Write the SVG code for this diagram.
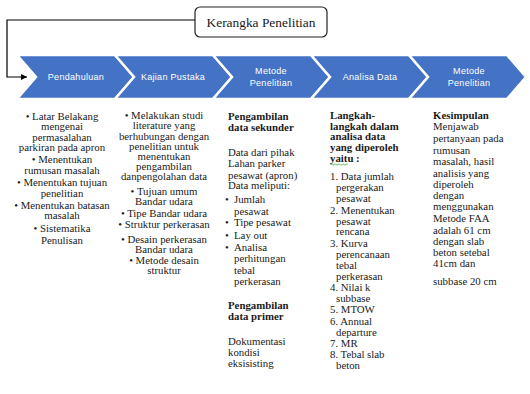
<svg xmlns="http://www.w3.org/2000/svg" width="530" height="394" viewBox="0 0 530 394">
<style>
.chev{fill:#4472C4;stroke:#fff;stroke-width:2.5;stroke-linejoin:miter}
.ct{font-family:"Liberation Sans",Arial,sans-serif;font-size:9px;fill:#fff;text-anchor:middle;letter-spacing:0.3px}
.t{font-family:"Liberation Serif","Times New Roman",serif;font-size:10.8px;fill:#1a1a1a}
.c{text-anchor:middle}
.b{font-weight:bold}
.conn{fill:none;stroke:#000;stroke-width:1.2}
</style>
<defs>
<marker id="arr" markerWidth="8" markerHeight="8" refX="6" refY="3" orient="auto" markerUnits="userSpaceOnUse"><path d="M0,0 L6,3 L0,6 Z" fill="#000"/></marker>
</defs>
<rect width="530" height="394" fill="#fff"/>
<g id="connectors">
<path class="conn" d="M195,20 H7 V77 H27" marker-end="url(#arr)"/>
</g>
<g id="kerangka">
<rect x="195" y="7" width="132" height="30" rx="5" fill="#fff" stroke="#222" stroke-width="1.2"/>
<text x="261" y="26.5" class="t c" style="font-size:13.4px">Kerangka Penelitian</text>
</g>
<g id="chev1"><path class="chev" d="M17,55 H115 L134,77 L115,99 H17 L36,77 Z"/><text class="ct" x="76" y="80">Pendahuluan</text></g>
<g id="chev2"><path class="chev" d="M115,55 H213 L232,77 L213,99 H115 L134,77 Z"/><text class="ct" x="173" y="80">Kajian Pustaka</text></g>
<g id="chev3"><path class="chev" d="M213,55 H311 L330,77 L311,99 H213 L232,77 Z"/><text class="ct" x="271" y="74">Metode</text><text class="ct" x="271" y="85.5">Penelitian</text></g>
<g id="chev4"><path class="chev" d="M311,55 H409 L428,77 L409,99 H311 L330,77 Z"/><text class="ct" x="370" y="80">Analisa Data</text></g>
<g id="chev5"><path class="chev" d="M409,55 H507 L526,77 L507,99 H409 L428,77 Z"/><text class="ct" x="469" y="74">Metode</text><text class="ct" x="469" y="85.5">Penelitian</text></g>
<g id="col1" class="t c">
<text x="62" y="120">• Latar Belakang</text>
<text x="62" y="130">mengenai</text>
<text x="62" y="141">permasalahan</text>
<text x="62" y="151">parkiran pada apron</text>
<text x="62" y="162.5">• Menentukan</text>
<text x="62" y="173.5">rumusan masalah</text>
<text x="62" y="185.5">• Menentukan tujuan</text>
<text x="62" y="197">penelitian</text>
<text x="62" y="208.5">• Menentukan batasan</text>
<text x="62" y="218.5">masalah</text>
<text x="62" y="232">• Sistematika</text>
<text x="62" y="243.5">Penulisan</text>
</g>
<g id="col2" class="t c">
<text x="164" y="119">• Melakukan studi</text>
<text x="164" y="129">literature yang</text>
<text x="164" y="140">berhubungan dengan</text>
<text x="164" y="150">penelitian untuk</text>
<text x="164" y="160">menentukan</text>
<text x="164" y="170">pengambilan</text>
<text x="164" y="180">danpengolahan data</text>
<text x="164" y="194.5">• Tujuan umum</text>
<text x="164" y="204.5">Bandar udara</text>
<text x="164" y="216.5">• Tipe Bandar udara</text>
<text x="164" y="227.5">• Struktur perkerasan</text>
<text x="164" y="242.5">• Desain perkerasan</text>
<text x="164" y="252.5">Bandar udara</text>
<text x="164" y="263.5">• Metode desain</text>
<text x="164" y="273.5">struktur</text>
</g>
<g id="col3" class="t">
<text x="228" y="119.5" class="b">Pengambilan</text>
<text x="228" y="130.5" class="b">data sekunder</text>
<text x="228" y="156">Data dari pihak</text>
<text x="228" y="167">Lahan parker</text>
<text x="228" y="178.5">pesawat (apron)</text>
<text x="228" y="188.5">Data meliputi:</text>
<text x="225" y="203">•</text><text x="234" y="203">Jumlah</text>
<text x="234" y="214.5">pesawat</text>
<text x="225" y="226">•</text><text x="234" y="226">Tipe pesawat</text>
<text x="225" y="238.5">•</text><text x="234" y="238.5">Lay out</text>
<text x="225" y="251">•</text><text x="234" y="251">Analisa</text>
<text x="234" y="262">perhitungan</text>
<text x="234" y="273.5">tebal</text>
<text x="234" y="285">perkerasan</text>
<text x="228" y="309" class="b">Pengambilan</text>
<text x="228" y="320" class="b">data primer</text>
<text x="228" y="345">Dokumentasi</text>
<text x="228" y="356">kondisi</text>
<text x="228" y="367">eksisisting</text>
</g>
<g id="col4" class="t">
<text x="330" y="119" class="b">Langkah-</text>
<text x="330" y="129.5" class="b">langkah dalam</text>
<text x="330" y="140" class="b">analisa data</text>
<text x="330" y="151" class="b">yang diperoleh</text>
<text x="330" y="162" class="b">yaitu :</text>
<path d="M330,164.5 q1,-1.2 2,0 t2,0 t2,0 t2,0 t2,0 t2,0 t2,0 t2,0 t2,0" fill="none" stroke="#3a9a3a" stroke-width="0.7"/>
<text x="330" y="180">1. Data jumlah</text>
<text x="336" y="191">pergerakan</text>
<text x="336" y="202">pesawat</text>
<text x="330" y="213.5">2. Menentukan</text>
<text x="336" y="224.5">pesawat</text>
<text x="336" y="235">rencana</text>
<text x="330" y="247">3. Kurva</text>
<text x="336" y="258">perencanaan</text>
<text x="336" y="268.5">tebal</text>
<text x="336" y="280">perkerasan</text>
<text x="330" y="291">4. Nilai k</text>
<text x="336" y="302">subbase</text>
<text x="330" y="313">5. MTOW</text>
<text x="330" y="325">6. Annual</text>
<text x="336" y="336">departure</text>
<text x="330" y="347">7. MR</text>
<text x="330" y="358">8. Tebal slab</text>
<text x="336" y="369">beton</text>
</g>
<g id="col5" class="t">
<text x="433" y="119" class="b">Kesimpulan</text>
<text x="433" y="130">Menjawab</text>
<text x="433" y="142">pertanyaan pada</text>
<text x="433" y="153.5">rumusan</text>
<text x="433" y="165">masalah, hasil</text>
<text x="433" y="177">analisis yang</text>
<text x="433" y="188">diperoleh</text>
<text x="433" y="198.5">dengan</text>
<text x="433" y="210">menggunakan</text>
<text x="433" y="222">Metode FAA</text>
<text x="433" y="233.5">adalah 61 cm</text>
<text x="433" y="244.5">dengan slab</text>
<text x="433" y="256">beton setebal</text>
<text x="433" y="267">41cm dan</text>
<text x="433" y="285">subbase 20 cm</text>
</g>
</svg>
